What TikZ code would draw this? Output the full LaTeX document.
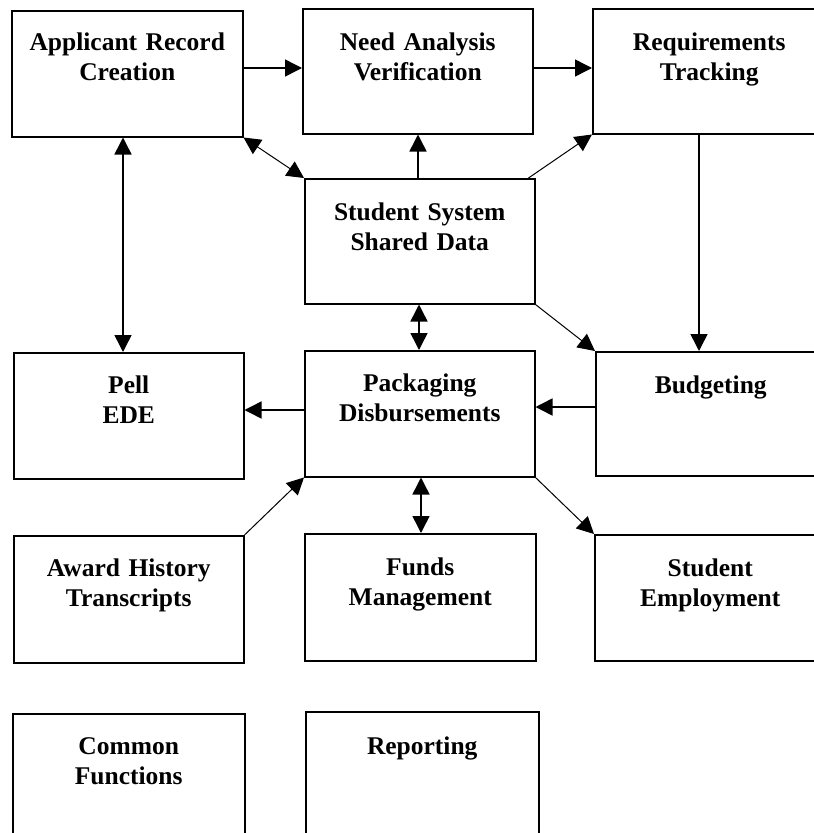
\documentclass[tikz,border=0pt]{standalone}
\usepackage{fontspec}
\setmainfont{Liberation Serif}
\usetikzlibrary{arrows.meta,calc}
\begin{document}
\begin{tikzpicture}[x=1pt,y=-1pt,
  box/.style={draw,line width=1.5pt,inner sep=0pt,anchor=north west},
  lbl/.style={anchor=base,inner sep=0pt,align=center,text width=#1,
    font=\bfseries\fontsize{25.5}{30}\selectfont},
  tip/.tip={Triangle[length=17pt,width=17pt]},
  sarr/.style={line width=1.5pt,-tip},
  darr/.style={line width=1.5pt,tip-tip},
  thin arr/.style={line width=1pt,-tip},
  thin darr/.style={line width=1pt,tip-tip}]
\clip (0,0) rectangle (814,833);
\fill[white] (0,0) rectangle (814,833);

% boxes
\node[box,minimum width=231pt,minimum height=126pt] (A) at (11,10) {};
\node[box,minimum width=230pt,minimum height=125pt] (N) at (302,8) {};
\node[box,minimum width=233pt,minimum height=125pt] (R) at (592,8) {};
\node[box,minimum width=230pt,minimum height=125pt] (S) at (304,178) {};
\node[box,minimum width=230pt,minimum height=126pt] (P) at (13,352) {};
\node[box,minimum width=230pt,minimum height=126pt] (K) at (304,350) {};
\node[box,minimum width=230pt,minimum height=124pt] (B) at (595,351) {};
\node[box,minimum width=230pt,minimum height=127pt] (W) at (13,535) {};
\node[box,minimum width=231pt,minimum height=127pt] (F) at (304,533) {};
\node[box,minimum width=231pt,minimum height=126pt] (E) at (594,534) {};
\node[box,minimum width=232pt,minimum height=127pt] (C) at (12,713) {};
\node[box,minimum width=233pt,minimum height=129pt] (T) at (305,711) {};

% labels
\node[lbl=230pt] (At) at ($(A.north)+(0,40)$) {Applicant Record\\Creation};
\node[lbl=230pt] (Nt) at ($(N.north)+(0,42)$) {Need Analysis\\Verification};
\node[lbl=230pt] (Rt) at ($(R.north)+(0,42)$) {Requirements\\Tracking};
\node[lbl=230pt] (St) at ($(S.north)+(0,42)$) {Student System\\Shared Data};
\node[lbl=230pt] (Pt) at ($(P.north)+(0,41)$) {Pell\\EDE};
\node[lbl=230pt] (Kt) at ($(K.north)+(0,41)$) {Packaging\\Disbursements};
\node[lbl=230pt] (Bt) at ($(B.north)+(0,42)$) {Budgeting};
\node[lbl=230pt] (Wt) at ($(W.north)+(0,41)$) {Award History\\Transcripts};
\node[lbl=230pt] (Ft) at ($(F.north)+(0,42)$) {Funds\\Management};
\node[lbl=230pt] (Et) at ($(E.north)+(0,42)$) {Student\\Employment};
\node[lbl=230pt] (Ct) at ($(C.north)+(0,41)$) {Common\\Functions};
\node[lbl=230pt] (Tt) at ($(T.north)+(0,43)$) {Reporting};

% connectors along the top row
\draw[sarr] ($(A.north east)+(0,58)$) -- ($(N.north west)+(0,60)$);
\draw[sarr] ($(N.north east)+(0,60)$) -- ($(R.north west)+(0,60)$);

% shared data hub
\draw[thin darr] (A.south east) -- (S.north west);
\draw[sarr] ($(S.north west)+(114,0)$) -- ($(N.south west)+(116,0)$);
\draw[thin arr] ($(S.north east)+(-7,0)$) -- (R.south west);
\draw[thin arr] (S.south east) -- (B.north west);
\draw[darr] ($(S.south west)+(115,0)$) -- ($(K.north west)+(115,0)$);

% left column
\draw[darr] ($(A.south west)+(112,0)$) -- ($(P.north west)+(110,0)$);

% requirements to budgeting
\draw[sarr] ($(R.south west)+(107,0)$) -- ($(B.north west)+(104,0)$);

% packaging links
\draw[sarr] ($(B.north west)+(0,56)$) -- ($(K.north east)+(0,57)$);
\draw[sarr] ($(K.north west)+(0,60)$) -- ($(P.north east)+(0,58)$);
\draw[thin arr] (W.north east) -- (K.south west);
\draw[darr] ($(K.south west)+(117,0)$) -- ($(F.north west)+(117,0)$);
\draw[thin arr] (K.south east) -- (E.north west);
\end{tikzpicture}
\end{document}
